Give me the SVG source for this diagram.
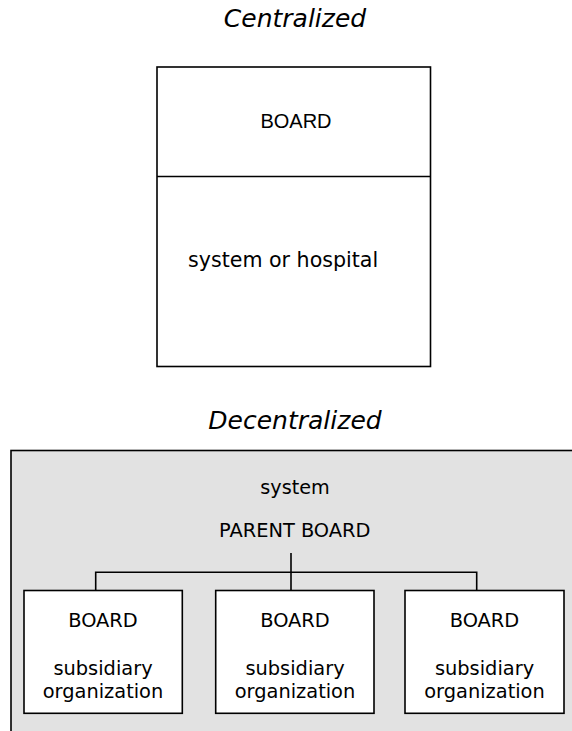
<svg xmlns="http://www.w3.org/2000/svg" width="572" height="731" viewBox="0 0 572 731">
<style>
.title{font-family:"DejaVu Sans",Verdana,sans-serif;font-style:italic;font-size:25px;fill:#000;text-anchor:middle}
.t{font-family:"DejaVu Sans",Verdana,sans-serif;font-size:19.4px;fill:#000;text-anchor:middle}
.a{font-family:"Liberation Sans",Arial,sans-serif;font-size:20px;fill:#000;text-anchor:middle}
.box{fill:#fff;stroke:#000;stroke-width:1.6}
.ln{fill:none;stroke:#000;stroke-width:1.6}
</style>
<rect width="572" height="731" fill="#fff"/>
<text class="title" x="295" y="27">Centralized</text>
<g id="central">
<rect class="box" x="157" y="67" width="273.5" height="299.5"/>
<line class="ln" x1="157" y1="176.5" x2="430.5" y2="176.5"/>
<text class="a" x="296" y="128">BOARD</text>
<text class="t" x="188" y="266.5" style="text-anchor:start;font-size:20.6px">system or hospital</text>
</g>
<text class="title" x="295" y="429">Decentralized</text>
<g id="system">
<rect x="11" y="450.5" width="600" height="320" fill="#e2e2e2" stroke="#000" stroke-width="1.6"/>
<text class="t" x="295" y="494" style="font-size:19.2px">system</text>
<text class="t" x="294.7" y="537">PARENT BOARD</text>
</g>
<g id="connectors">
<line class="ln" x1="291" y1="553" x2="291" y2="591"/>
<polyline class="ln" points="95.7,591 95.7,572.3 476.7,572.3 476.7,591"/>
</g>
<g id="sub1">
<rect class="box" x="24" y="590.5" width="158.3" height="122.8"/>
<text class="t" x="103" y="626.7">BOARD</text>
<text class="t" x="103" y="675">subsidiary</text>
<text class="t" x="103" y="698.3">organization</text>
</g>
<g id="sub2">
<rect class="box" x="215.7" y="590.5" width="158.3" height="122.8"/>
<text class="t" x="295" y="626.7">BOARD</text>
<text class="t" x="295" y="675">subsidiary</text>
<text class="t" x="295" y="698.3">organization</text>
</g>
<g id="sub3">
<rect class="box" x="405" y="590.5" width="159" height="122.8"/>
<text class="t" x="484.5" y="626.7">BOARD</text>
<text class="t" x="484.5" y="675">subsidiary</text>
<text class="t" x="484.5" y="698.3">organization</text>
</g>
</svg>
